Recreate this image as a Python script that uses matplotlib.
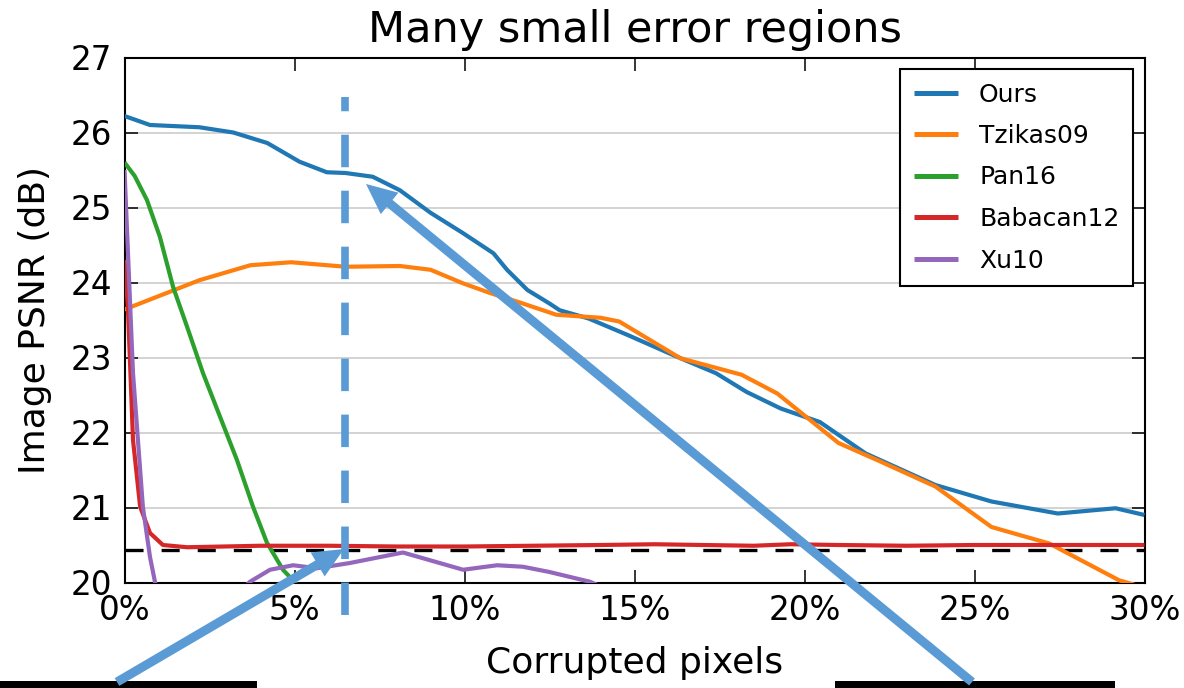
import matplotlib
matplotlib.use("Agg")
import matplotlib.pyplot as plt
from matplotlib.patches import FancyArrowPatch, Rectangle

plt.rcParams['font.family'] = ['DejaVu Sans']
plt.rcParams['lines.scale_dashes'] = False

# ---------------- data ----------------
title = "Many small error regions"
xlabel = "Corrupted pixels"
ylabel = "Image PSNR (dB)"
xticks = [0, 5, 10, 15, 20, 25, 30]
xticklabels = ["0%", "5%", "10%", "15%", "20%", "25%", "30%"]
yticks = [20, 21, 22, 23, 24, 25, 26, 27]

ours_x = [0, 0.75, 2.2, 3.2, 4.2, 5.15, 5.95, 6.5, 7.3, 8.1, 9.0, 9.95, 10.85, 11.25,
          11.85, 12.5, 12.8, 13.65, 14.8, 16.25, 17.4, 18.3, 19.3, 20.45, 21.8, 23.85,
          25.5, 27.45, 29.15, 30]
ours_y = [26.22, 26.1, 26.07, 26.0, 25.86, 25.61, 25.47, 25.46, 25.41, 25.23, 24.93, 24.66,
          24.39, 24.17, 23.9, 23.72, 23.63, 23.52, 23.3, 23.01, 22.79, 22.54, 22.32, 22.14,
          21.72, 21.3, 21.08, 20.92, 20.99, 20.9]

tzikas_x = [0, 2.2, 3.7, 4.9, 6.5, 8.1, 9.0, 9.95, 10.75, 11.65, 12.7, 14.0, 14.55, 16.35,
            18.15, 19.2, 21.0, 22.15, 23.85, 25.5, 27.2, 29.25, 30]
tzikas_y = [23.64, 24.03, 24.23, 24.27, 24.21, 24.22, 24.17, 23.99, 23.86, 23.73, 23.57,
            23.53, 23.48, 22.99, 22.77, 22.52, 21.86, 21.63, 21.28, 20.74, 20.52, 20.03, 19.93]

pan_x = [0, 0.3, 0.66, 1.04, 1.43, 1.84, 2.31, 2.81, 3.31, 3.78, 4.19, 4.66, 4.87, 5.1, 5.4]
pan_y = [25.6, 25.42, 25.1, 24.61, 23.94, 23.41, 22.79, 22.21, 21.63, 21.01, 20.53, 20.17,
         20.07, 19.95, 19.8]

babacan_x = [0, 0.1, 0.25, 0.46, 0.75, 1.13, 1.84, 4, 6, 8, 10, 12, 14, 15.6, 17, 18.5,
             19.6, 21, 23, 25, 27, 30]
babacan_y = [24.3, 23.67, 21.9, 21.01, 20.66, 20.5, 20.47, 20.49, 20.49, 20.48, 20.48, 20.49,
             20.5, 20.51, 20.5, 20.49, 20.51, 20.5, 20.49, 20.5, 20.5, 20.5]

xu_x = [0, 0.25, 0.54, 0.75, 0.9, 1.1, 2.0, 3.0, 3.69, 4.28, 4.96, 5.66, 6.63, 8.19, 9.96,
        10.96, 11.72, 12.5, 13.69, 14.5]
xu_y = [25.5, 22.79, 21.01, 20.34, 20.0, 19.7, 19.5, 19.7, 20.01, 20.17, 20.23, 20.19, 20.26,
        20.4, 20.17, 20.23, 20.21, 20.14, 20.01, 19.85]

series = [("Ours", ours_x, ours_y, "#1f77b4"),
          ("Tzikas09", tzikas_x, tzikas_y, "#ff7f0e"),
          ("Pan16", pan_x, pan_y, "#2ca02c"),
          ("Babacan12", babacan_x, babacan_y, "#d62728"),
          ("Xu10", xu_x, xu_y, "#9467bd")]

baseline_psnr = 20.43
marker_x = 6.49
marker_y = [19.57, 26.48]

# ---------------- figure ----------------
W, H = 1184, 688
fig = plt.figure(figsize=(W / 100, H / 100), dpi=100)
ax = fig.add_axes([124.5 / W, 1 - 582.5 / H, 1020 / W, 525 / H])

ax.yaxis.grid(True, color="#cccccc", linewidth=1.2, zorder=0)
ax.set_axisbelow(True)

ax.axhline(baseline_psnr, color="black", linewidth=2.4, dashes=(13, 13), zorder=2.5)

for name, xs, ys, c in series:
    ax.plot(xs, ys, color=c, linewidth=3.0, label=name, zorder=3,
            solid_capstyle="butt", solid_joinstyle="round")

ax.set_xlim(0, 30)
ax.set_ylim(20, 27)
ax.set_xticks(xticks)
ax.set_xticklabels(xticklabels)
ax.set_yticks(yticks)
ax.tick_params(direction="in", top=True, right=True, length=9.5, width=1.1,
               labelsize=23.5, pad=8, colors="black")
ax.tick_params(axis="y", pad=9)
for s in ax.spines.values():
    s.set_linewidth(1.5)

ax.set_title(title, fontsize=31, pad=11)
ax.set_xlabel(xlabel, fontsize=26, labelpad=14)
ax.set_ylabel(ylabel, fontsize=26, labelpad=13)

leg = ax.legend(loc="upper right", fontsize=18, frameon=True, fancybox=False,
                edgecolor="black", framealpha=1, handlelength=1.75, handletextpad=0.85,
                labelspacing=0.7, borderpad=0.55, borderaxespad=0.45)
leg.get_frame().set_linewidth(1.5)
for l in leg.get_lines():
    l.set_linewidth(3.6)

# annotation: vertical dashed marker
ax.plot([marker_x, marker_x], marker_y, color="#5b9bd5", linewidth=5.5,
        dashes=(23.4, 16.9), solid_capstyle="butt", dash_capstyle="butt",
        clip_on=False, zorder=4)

# black bars at bottom
def fx(x):
    return x / W

def fy(y):
    return 1 - y / H

fig.add_artist(Rectangle((fx(0), fy(688)), fx(257), 7 / H, transform=fig.transFigure,
                         facecolor="black", edgecolor="none", zorder=5))
fig.add_artist(Rectangle((fx(835), fy(688)), fx(1115 - 835), 7 / H, transform=fig.transFigure,
                         facecolor="black", edgecolor="none", zorder=5))

# arrows
style = "simple,head_length=22,head_width=20,tail_width=6.5"
for (xa, ya), (xb, yb) in [((117, 682), (344, 549)), ((972, 682), (366, 184))]:
    fig.add_artist(FancyArrowPatch((fx(xa), fy(ya)), (fx(xb), fy(yb)),
                                   transform=fig.transFigure, arrowstyle=style,
                                   mutation_scale=1, color="#5b9bd5", linewidth=0,
                                   shrinkA=0, shrinkB=0, zorder=6))

fig.savefig("out.png", dpi=100)
